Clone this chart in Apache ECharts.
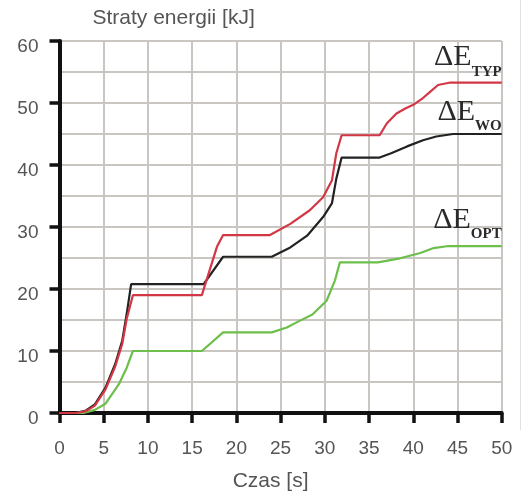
<!DOCTYPE html>
<html><head><meta charset="utf-8">
<script src="https://cdn.jsdelivr.net/npm/echarts@6/dist/echarts.min.js"></script>
<style>html,body{margin:0;padding:0;background:#fff}#c{width:526px;height:494px}</style>
</head><body><div id="c"></div>
<script>
// Time [s] and energy loss [kJ]
const typX = [0, 1.8, 3, 4, 5.2, 6.3, 7.1, 7.6, 8.3, 16.1, 17.8, 18.5, 23.8, 26.1, 28.3, 29.8, 30.8, 31.3, 31.9, 36.2, 37, 38.1, 39.1, 40, 41.1, 41.9, 42.8, 44.2, 50];
const typY = [0, 0, 0.3, 1.2, 3.8, 7.5, 11.2, 15.2, 19.0, 19.0, 26.8, 28.7, 28.7, 30.5, 32.7, 34.8, 37.5, 41.9, 44.8, 44.8, 46.7, 48.3, 49.1, 49.7, 50.8, 51.8, 52.9, 53.3, 53.3];
const woX = [0, 1.8, 3, 4, 5.2, 6.3, 7.1, 7.6, 8.1, 16.3, 18.5, 24, 26.1, 28, 29.8, 30.8, 31.3, 31.9, 36.2, 37.5, 39.3, 41.1, 42.6, 44.5, 50];
const woY = [0, 0, 0.4, 1.4, 4.1, 7.9, 11.7, 16, 20.8, 20.8, 25.2, 25.2, 26.7, 28.6, 31.6, 33.8, 37.8, 41.2, 41.2, 41.9, 43.0, 44.0, 44.6, 45, 45];
const optX = [0, 2.7, 4, 5.2, 6.7, 7.6, 8.3, 16.1, 18.5, 24, 25.7, 27.2, 28.6, 30.2, 31.15, 31.7, 36, 38.5, 40.8, 42.3, 43.8, 50];
const optY = [0, 0, 0.5, 1.5, 4.6, 7.3, 10, 10, 13, 13, 13.8, 14.9, 15.9, 18.1, 21.4, 24.3, 24.3, 24.95, 25.8, 26.6, 26.9, 26.9];
const seriesNames = ['TYP', 'WO', 'OPT'];
const xTitle = 'Czas [s]';
const yTitle = 'Straty energii [kJ]';

function pairs(xs, ys) { return xs.map((x, i) => [x, ys[i]]); }

const serif = '"Liberation Serif","DejaVu Serif",serif';
function endLbl(sub, dy) {
  return {
    show: true,
    formatter: '{a|ΔE}{b|' + sub + '}',
    align: 'right', verticalAlign: 'bottom', distance: 0, offset: [0, dy],
    rich: {
      a: { fontFamily: serif, fontSize: 30, color: '#2a2a2a', padding: [0, 0, 7, 0], verticalAlign: 'bottom' },
      b: { fontFamily: serif, fontSize: 15, fontWeight: 'bold', color: '#2a2a2a', verticalAlign: 'bottom' }
    }
  };
}

const chart = echarts.init(document.getElementById('c'), null, { renderer: 'canvas' });
const gridColor = '#c9c5c1';
const sans = '"Liberation Sans", Arial, sans-serif';
const tickStyle = { show: true, inside: false, length: 10, lineStyle: { color: '#111', width: 3.5 } };
chart.setOption({
  animation: false,
  backgroundColor: '#fff',
  grid: { left: 59.5, right: 24.3, top: 41, bottom: 81, containLabel: false, outerBoundsMode: 'none' },
  xAxis: {
    type: 'value', min: 0, max: 50, interval: 5,
    name: xTitle, nameLocation: 'middle', nameGap: 58,
    nameTextStyle: { fontFamily: sans, fontSize: 21, color: '#555', padding: [0, 20, 0, 0] },
    axisLine: { show: true, onZero: false, lineStyle: { color: '#111', width: 4 } },
    axisTick: tickStyle,
    axisLabel: { fontFamily: sans, fontSize: 19, color: '#555', margin: 26 },
    splitLine: { show: true, lineStyle: { color: gridColor, width: 2 } }
  },
  yAxis: {
    type: 'value', min: 0, max: 60, interval: 10,
    name: yTitle, nameLocation: 'end', nameGap: 12,
    nameTextStyle: { fontFamily: sans, fontSize: 21, color: '#555', align: 'left', padding: [0, 0, 0, 33] },
    axisLine: { show: true, onZero: false, lineStyle: { color: '#111', width: 4 } },
    axisTick: tickStyle,
    axisLabel: { fontFamily: sans, fontSize: 19, color: '#555', margin: 21, verticalAlign: 'top', lineHeight: 12 },
    splitLine: { show: true, lineStyle: { color: gridColor, width: 2 } },
    minorTick: { show: false, splitNumber: 2 },
    minorSplitLine: { show: true, lineStyle: { color: gridColor, width: 2 } }
  },
  graphic: [{ type: 'line', shape: { x1: 520.5, y1: 0, x2: 520.5, y2: 430 }, style: { stroke: '#e2e2e2', lineWidth: 1 } }],
  series: [
    { name: seriesNames[1], type: 'line', data: pairs(woX, woY), symbol: 'none', z: 3,
      lineStyle: { color: '#222', width: 2.2 }, endLabel: endLbl(seriesNames[1], 0) },
    { name: seriesNames[0], type: 'line', data: pairs(typX, typY), symbol: 'none', z: 4,
      lineStyle: { color: '#d33645', width: 2.2 }, endLabel: endLbl(seriesNames[0], -3) },
    { name: seriesNames[2], type: 'line', data: pairs(optX, optY), symbol: 'none', z: 3,
      lineStyle: { color: '#6cbf4a', width: 2.2 }, endLabel: endLbl(seriesNames[2], -4.5) }
  ]
});
</script>
</body></html>
